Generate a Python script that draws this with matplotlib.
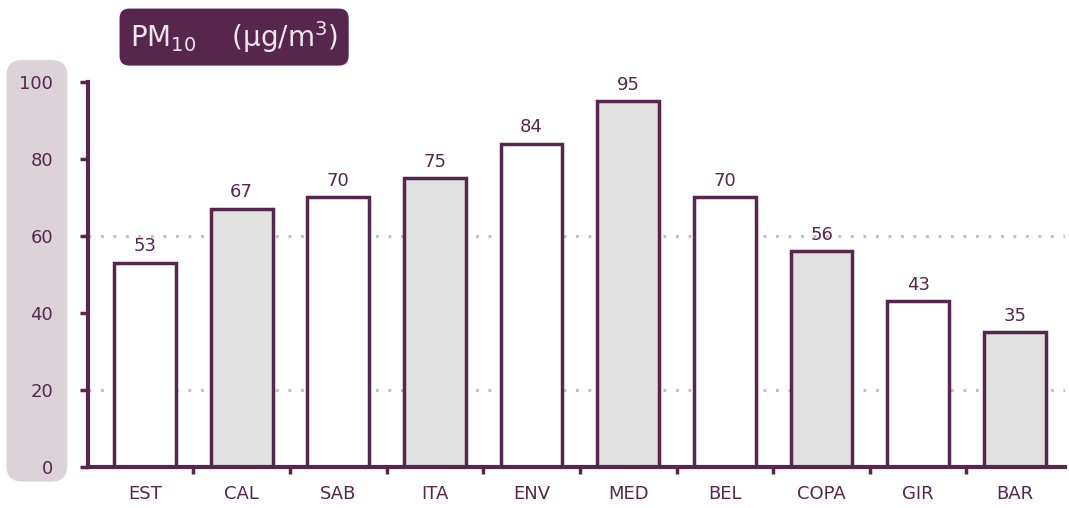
import matplotlib.pyplot as plt
from matplotlib.patches import FancyBboxPatch

# PM10 annual concentrations per station
stations = ['EST', 'CAL', 'SAB', 'ITA', 'ENV', 'MED', 'BEL', 'COPA', 'GIR', 'BAR']
pm10 = [53, 67, 70, 75, 84, 95, 70, 56, 43, 35]
fills = ['white', '#e0e1e0', 'white', '#e0e1e0', 'white',
         '#e0e1e0', 'white', '#e0e1e0', 'white', '#e0e1e0']
y_ticks = [0, 20, 40, 60, 80, 100]

purple = '#56264d'
plt.rcParams['font.family'] = ['DejaVu Sans']
plt.rcParams['mathtext.fontset'] = 'dejavusans'

fig = plt.figure(figsize=(10.69, 5.08), dpi=100)
ax = fig.add_axes([0.0823, 0.0807, 0.9140, 0.7579])
ax.patch.set_visible(False)

# tinted panel behind y labels
fig.patches.append(FancyBboxPatch((0.006, 0.052), 0.057, 0.83,
                                  boxstyle='round,pad=0,rounding_size=0.015',
                                  transform=fig.transFigure, facecolor='#dcd3d8',
                                  edgecolor='none', zorder=-5, mutation_aspect=2.1))

# dotted reference lines
for yv in (20, 60):
    ax.axhline(yv, color='#c7b7c0', lw=2, ls=(0, (1, 3.5)), zorder=0)

x = range(len(stations))
ax.bar(x, pm10, width=0.64, color=fills, edgecolor=purple, linewidth=2.5, zorder=2)
for xi, v in zip(x, pm10):
    ax.text(xi, v + 2, str(v), ha='center', va='bottom', fontsize=13,
            color=purple)

ax.set_xlim(-0.59, 9.52)
ax.set_ylim(0, 100)
ax.set_xticks(list(x))
ax.set_xticklabels(stations, fontsize=13, color=purple)
ax.set_xticks([i + 0.5 for i in range(9)], minor=True)
ax.tick_params(axis='x', which='major', length=0, pad=13)
ax.tick_params(axis='x', which='minor', length=5, width=2.5, color=purple, direction='out')
ax.set_yticks(y_ticks)
ax.set_yticklabels([str(t) for t in y_ticks], fontsize=13, color=purple)
ax.tick_params(axis='y', length=6, width=2.5, color=purple, pad=19)

for side in ('top', 'right'):
    ax.spines[side].set_visible(False)
for side in ('left', 'bottom'):
    ax.spines[side].set_color(purple)
    ax.spines[side].set_linewidth(3)

# title badge
fig.text(0.219, 0.927, r'PM$_{10}$    (µg/m$^{3}$)', ha='center', va='center',
         fontsize=20, color='#eee6ea',
         bbox=dict(boxstyle='round,pad=0.38,rounding_size=0.35', facecolor=purple,
                   edgecolor='none'))

fig.savefig('out.png', dpi=100)
